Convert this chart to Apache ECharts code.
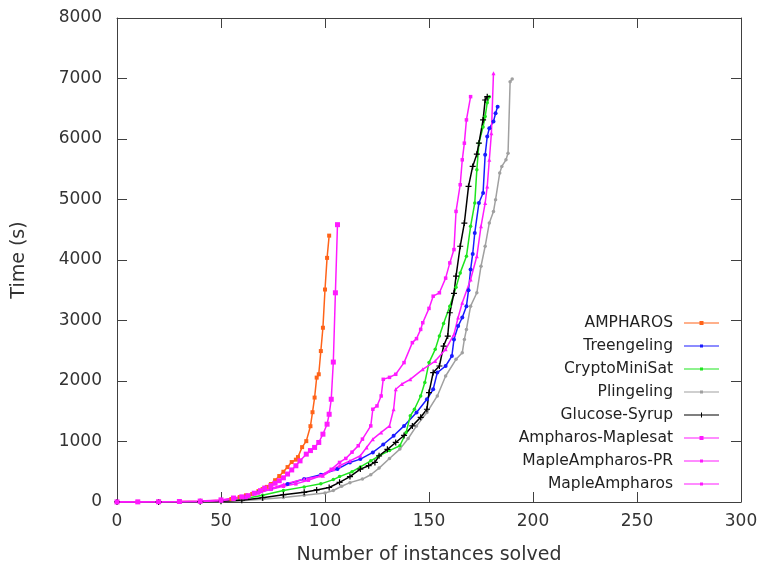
<!DOCTYPE html>
<html>
<head>
<meta charset="utf-8">
<script src="https://cdn.jsdelivr.net/npm/echarts@6/dist/echarts.min.js"></script>
<style>
  html, body { margin: 0; padding: 0; background: #fff; }
  #main { width: 765px; height: 570px; }
</style>
</head>
<body>
<div id="main"></div>
<script>
// x = number of instances solved, y = time (s)
var names = ['AMPHAROS', 'Treengeling', 'CryptoMiniSat', 'Plingeling', 'Glucose-Syrup',
  'Ampharos-Maplesat', 'MapleAmpharos-PR', 'MapleAmpharos'];

var ampharos = [[0,1],[10,2],[20,4],[30,8],[40,14],[50,30],[55,50],[59,82],[62,110],[65,132],[68,180],
  [70,214],[72,250],[74,297],[76,360],[78,429],[80,500],[82,577],[84,660],[86,700],[87,742],[89,907],
  [91,1006],[93,1253],[94,1484],[95,1726],[96,2056],[97,2111],[98,2495],[99,2880],[100,3512],[101,4035],[102,4403]];

var treengeling = [[0,1],[20,3],[40,10],[50,25],[56,50],[62,77],[68,160],[74,214],[82,297],[90,379],
  [98,450],[106,544],[112,654],[117,709],[123,820],[128,950],[133,1094],[138,1258],[144,1479],[149,1698],
  [152,1863],[154,2139],[158,2248],[161,2413],[162,2688],[164,2908],[166,3050],[168,3237],[169,3500],
  [170,3842],[171,4100],[172,4447],[174,4942],[176,5107],[177,5739],[178,6041],[179,6179],[181,6288],
  [182,6426],[183,6535]];

var cryptominisat = [[0,1],[20,3],[40,8],[50,18],[60,45],[70,110],[80,190],[90,250],[98,300],[104,370],
  [107,420],[113,500],[117,580],[122,680],[126,764],[131,850],[136,929],[139,1149],[141,1424],[143,1533],
  [146,1753],[148,1974],[150,2304],[153,2523],[155,2743],[157,2950],[160,3237],[163,3550],[165,3787],
  [168,4061],[170,4556],[172,4942],[173,5491],[174,5931],[176,6200],[177,6370],[178,6600],[179,6700]];

var plingeling = [[0,1],[20,2],[40,4],[50,10],[60,20],[70,45],[80,75],[90,110],[100,150],[104,190],
  [108,260],[112,320],[118,379],[122,450],[126,560],[131,720],[136,874],[140,1050],[144,1258],[149,1479],
  [154,1753],[158,2083],[163,2358],[166,2468],[167,2688],[168,2853],[170,3237],[173,3458],[175,3897],
  [177,4227],[179,4612],[181,4800],[182,4997],[184,5436],[185,5546],[187,5656],[188,5766],[189,6948],[190,6992]];

var glucoseSyrup = [[0,1],[20,2],[40,5],[50,12],[60,30],[70,70],[80,120],[90,160],[96,200],[102,240],
  [107,325],[112,420],[117,544],[121,600],[124,654],[126,764],[130,870],[134,984],[138,1100],[142,1258],
  [146,1400],[149,1533],[150,1809],[152,2139],[155,2248],[157,2578],[159,2743],[160,3128],[162,3450],
  [163,3732],[165,4227],[167,4611],[169,5216],[171,5546],[173,5750],[174,5931],[176,6316],[177,6645],[178,6700]];

var ampharosMaplesat = [[0,1],[10,2],[20,4],[30,8],[40,15],[50,35],[56,66],[60,85],[63,104],[66,145],
  [69,187],[71,230],[74,270],[76,310],[78,352],[80,400],[82,462],[84,530],[86,599],[88,680],[91,791],
  [93,850],[95,902],[97,984],[99,1121],[101,1286],[102,1450],[103,1698],[104,2313],[105,3458],[106,4584]];

var mapleAmpharosPR = [[0,1],[20,3],[40,10],[50,25],[56,50],[62,80],[68,150],[74,210],[80,260],[86,300],
  [92,360],[98,434],[103,540],[107,654],[110,720],[113,824],[116,930],[118,1039],[122,1258],[123,1533],
  [125,1588],[127,1753],[128,2028],[131,2060],[134,2111],[138,2304],[142,2634],[144,2700],[146,2853],
  [147,2963],[150,3200],[152,3402],[155,3458],[158,3700],[160,3952],[162,4172],[163,4803],[165,5244],
  [166,5656],[167,5931],[168,6316],[170,6700]];

var mapleAmpharos = [[0,1],[20,3],[40,10],[50,25],[56,50],[62,80],[68,160],[74,220],[80,290],[90,380],
  [99,434],[104,540],[107,599],[112,680],[117,764],[120,900],[123,1039],[127,1150],[131,1258],[133,1533],
  [134,1863],[137,1950],[141,2028],[147,2193],[153,2330],[158,2523],[162,2770],[164,3050],[166,3293],
  [170,3677],[173,4061],[175,4556],[177,4942],[178,5216],[179,5656],[180,6096],[181,7086]];

var xTicks = { min: 0, max: 300, interval: 50 };
var yTicks = { min: 0, max: 8000, interval: 1000 };

var colors = ['#ff6319', '#1a1aff', '#1ee51e', '#a0a0a0', '#000000', '#ff1aff', '#ff1aff', '#ff1aff'];
var plus = 'path://M4,0H6V4H10V6H6V10H4V6H0V4H4Z';
var symbols = ['rect', 'circle', 'circle', 'circle', plus, 'rect', 'rect', 'triangle'];
var sizes = [4, 4, 3.5, 3.5, 6, 5, 3.5, 4];
var allData = [ampharos, treengeling, cryptominisat, plingeling, glucoseSyrup,
  ampharosMaplesat, mapleAmpharosPR, mapleAmpharos];

// legend icons: a line with a small marker in the middle (35 x 14 box)
var iconSquare = 'path://M0,6.4H35V7.6H0Z M15.5,5H19.5V9H15.5Z';
var iconDot = 'path://M0,6.4H35V7.6H0Z M16,5.5H19V8.5H16Z';
var iconPlus = 'path://M0,6.5H35V7.5H0Z M17,4.5H18V9.5H17Z';
var legendIcons = [iconSquare, iconDot, iconDot, iconDot, iconPlus, iconSquare, iconDot, iconDot];

var font = 'DejaVu Sans';
var axisColor = '#404040';

function axisBase(o) {
  return Object.assign({
    type: 'value',
    axisLine: { show: true, onZero: false, lineStyle: { color: axisColor, width: 1 } },
    axisTick: { show: true, inside: true, length: 10, lineStyle: { color: axisColor } },
    splitLine: { show: false }
  }, o);
}

var chart = echarts.init(document.getElementById('main'));

var series = names.map(function (n, i) {
  return {
    name: n,
    type: 'line',
    data: allData[i],
    symbol: symbols[i],
    symbolSize: sizes[i],
    showSymbol: true,
    color: colors[i],
    lineStyle: { width: 1.5, color: colors[i] },
    itemStyle: { color: colors[i] },
    emphasis: { disabled: true },
    animation: false
  };
});

chart.setOption({
  animation: false,
  backgroundColor: '#fff',
  textStyle: { fontFamily: font },
  grid: { left: 117, right: 24, top: 18, bottom: 67 },
  xAxis: [
    axisBase(Object.assign({
      position: 'bottom',
      name: 'Number of instances solved',
      nameLocation: 'middle',
      nameGap: 44,
      nameTextStyle: { fontSize: 19, color: '#333', fontFamily: font },
      axisLabel: { fontSize: 17, color: '#333', margin: 11, fontFamily: font }
    }, xTicks)),
    axisBase(Object.assign({
      position: 'top',
      axisLabel: { show: false }
    }, xTicks))
  ],
  yAxis: [
    axisBase(Object.assign({
      position: 'left',
      name: 'Time (s)',
      nameLocation: 'middle',
      nameRotate: 90,
      nameGap: 88,
      nameTextStyle: { fontSize: 19, color: '#333', fontFamily: font },
      axisLabel: {
        fontSize: 17, color: '#333', margin: 15, fontFamily: font,
        formatter: function (v) { return String(v); }
      }
    }, yTicks)),
    axisBase(Object.assign({
      position: 'right',
      axisLabel: { show: false }
    }, yTicks))
  ],
  legend: {
    data: names.map(function (n, i) { return { name: n, icon: legendIcons[i] }; }),
    orient: 'vertical',
    right: 41,
    top: 310,
    align: 'right',
    itemWidth: 35,
    itemHeight: 14,
    itemGap: 7,
    selectedMode: false,
    textStyle: { fontSize: 15.5, color: '#222', fontFamily: font, padding: [0, 6, 0, 0] }
  },
  series: series
});
</script>
</body>
</html>
